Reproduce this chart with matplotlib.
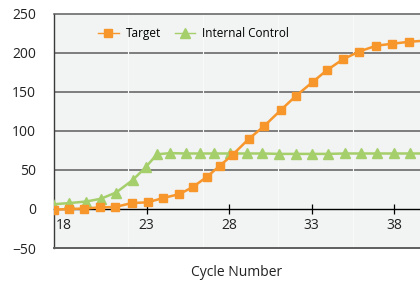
import matplotlib
matplotlib.use("Agg")
import matplotlib.pyplot as plt
from matplotlib.lines import Line2D
from matplotlib.ticker import FixedLocator

plt.rcParams['font.family'] = ['Open Sans', 'DejaVu Sans']

# cycle positions (points are not exactly on whole cycles)
target_cycles = [17.38, 18.29, 19.2, 20.17, 21.08, 22.09, 23.06, 24.0, 24.98, 25.79,
                 26.64, 27.44, 28.21, 29.2, 30.11, 31.12, 32.03, 33.08, 33.91, 34.88,
                 35.87, 36.9, 37.87, 38.88, 39.85]
target = [-1, 0, 0.5, 2, 2.5, 7.5, 8.5, 14, 19, 28,
          41, 55.5, 69.5, 90, 106, 126.5, 144.5, 163, 177.5, 191.5,
          201.5, 209, 211.5, 214, 215.5]

control_cycles = [17.34, 18.29, 19.32, 20.21, 21.14, 22.15, 22.94, 23.62, 24.43, 25.4,
                  26.25, 27.08, 28.04, 29.05, 30.0, 30.99, 32.02, 33.03, 33.98, 34.99,
                  35.96, 36.97, 37.98, 38.95, 39.9]
control = [6, 7.5, 9.5, 13, 21, 37, 53.5, 70, 71.5, 71,
           71, 71, 71, 71, 71, 70.5, 70.5, 70.5, 70.5, 71,
           71, 71, 71, 71, 71]

x_ticks = [18, 23, 28, 33, 38]
y_ticks = [-50, 0, 50, 100, 150, 200, 250]
faint_lines = [21.87, 26.4, 30.94, 35.48]

orange = '#f7962b'
green = '#a5cf6b'
grid_c = '#5e5e5e'

fig = plt.figure(figsize=(4.2, 2.82), dpi=100)
ax = fig.add_axes([54 / 420, 34 / 282, 376 / 420, 234.3 / 282])
ax.set_facecolor('#f2f3f3')

ax.set_xlim(17.38, 17.38 + 376 / 16.5)
ax.set_ylim(-50, 250)

for v in [50, 100, 150, 200]:
    ax.axhline(v, color=grid_c, lw=1.1, zorder=1)
ax.xaxis.set_minor_locator(FixedLocator(faint_lines))
ax.grid(which='minor', axis='x', color='#f8f9f9', lw=0.8, zorder=0)
ax.tick_params(which='minor', length=0)

ax.plot(control_cycles, control, color=green, lw=1.8, marker='^', ms=6.5,
        zorder=3, clip_on=True)
ax.plot(target_cycles, target, color=orange, lw=1.8, marker='s', ms=5.8,
        zorder=4, clip_on=True)

for s in ['top', 'right']:
    ax.spines[s].set_color(grid_c)
ax.spines['top'].set_linewidth(1.1)
ax.spines['left'].set_color('#3a3a3a')
ax.spines['left'].set_linewidth(1.0)
ax.spines['bottom'].set_position(('data', 0))
ax.spines['bottom'].set_color('black')
ax.spines['bottom'].set_linewidth(1.0)
ax.axhline(-50, color=grid_c, lw=1.4, zorder=5, clip_on=False)

ax.set_xticks(x_ticks)
ax.set_yticks(y_ticks)
ax.tick_params(axis='x', direction='inout', length=7.5, width=0.9, pad=3,
               labelsize=10, labelcolor='#222222')
ax.tick_params(axis='y', length=0, pad=13, labelsize=10, labelcolor='#222222')
for lab in ax.get_yticklabels():
    lab.set_horizontalalignment('right')
ax.xaxis.get_major_ticks()[0].tick1line.set_visible(False)
ax.xaxis.get_major_ticks()[0].tick2line.set_visible(False)

handles = [Line2D([], [], color=orange, lw=1, marker='s', ms=5.8),
           Line2D([], [], color=green, lw=1, marker='^', ms=6.5)]
ax.legend(handles, ['Target', 'Internal Control'], loc='upper left',
          bbox_to_anchor=(0.09, 0.988), ncol=2, frameon=False, fontsize=8.5,
          handlelength=1.7, columnspacing=1.2, handletextpad=0.6)

fig.text(236.5 / 420, 9 / 282, 'Cycle Number', ha='center', va='center',
         fontsize=10, color='#222222')

fig.savefig('out.png', dpi=100)
